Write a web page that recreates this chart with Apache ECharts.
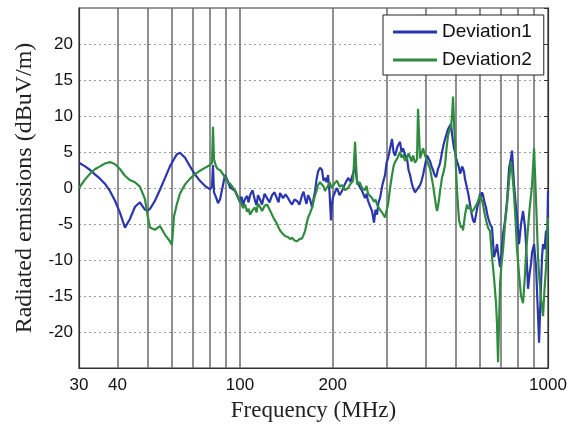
<!DOCTYPE html>
<html>
<head>
<meta charset="utf-8">
<script src="https://cdn.jsdelivr.net/npm/echarts@6/dist/echarts.min.js"></script>
<style>
  html, body { margin: 0; padding: 0; background: #fff; }
  #chart { width: 580px; height: 427px; }
</style>
</head>
<body>
<div id="chart"></div>
<script>
// frequency points (MHz), shared by both curves; one line here = one line in each curve below
var freqs = [
  30, 31.4, 32.6, 33.8, 35.1, 36.4, 37.8, 39.3, 40.8, 42.3,
  43.9, 45.6, 47.3, 49.1, 50.2, 51.0, 52.9, 55.0, 57.1, 59.2,
  60.1, 61.0, 62.4, 63.8, 66.3, 68.8, 71.4, 74.1, 76.9, 79.9,
  81.1, 81.7, 82.3, 83.6, 84.8, 86.1, 89.4, 91.4, 92.8, 96.3,
  100, 101.1, 102.3, 103.8, 105.4, 106.6, 107.8, 109.8, 111.9, 113.1,
  114.4, 116.1, 117.9, 120.1, 122.4, 124.7, 127.0, 129.4, 131.9, 133.4,
  134.9, 136.4, 137.9, 140.5, 143.2, 145.3, 147.5, 150.3, 153.1, 156.0,
  159.0, 160.8, 162.6, 164.4, 166.3, 168.8, 171.4, 173.3, 175.3, 177.2,
  179.2, 181.9, 184.6, 186.7, 188.8, 191.0, 193.1, 195.2, 197.4, 198.7,
  200, 203.2, 206.5, 210.4, 214.4, 219.3, 224.3, 228.5, 232.8, 236.3,
  239.9, 244.4, 249.0, 254.6, 257.5, 260.4, 264.3, 268.3, 272.3, 275.4,
  278.5, 281.6, 284.8, 290.2, 295.7, 299.0, 302.4, 307.0, 311.6, 315.1,
  318.6, 324.7, 330.8, 334.5, 338.3, 343.4, 348.5, 352.5, 356.5, 360.5,
  364.6, 370.1, 375.6, 378.4, 384.2, 388.5, 392.9, 398.8, 404.8, 409.4,
  414.0, 418.7, 423.4, 426.6, 429.8, 433.0, 436.3, 439.6, 443.0, 446.2,
  449.5, 452.9, 458.0, 463.2, 468.4, 473.7, 479.0, 484.4, 488.0, 491.7,
  495.4, 499.1, 502.8, 506.6, 510.4, 514.2, 518.1, 522.0, 525.9, 529.8,
  533.8, 537.8, 545.9, 552.1, 558.3, 564.6, 571.0, 577.4, 583.9, 590.5,
  597.1, 601.6, 606.1, 610.6, 615.2, 622.2, 629.2, 633.9, 638.7, 648.3,
  658.1, 668.0, 678.1, 683.2, 688.3, 698.7, 706.6, 714.5, 725.3, 736.2,
  747.3, 758.6, 764.3, 775.8, 784.6, 793.4, 805.4, 817.5, 829.8, 842.3,
  848.6, 861.4, 871.0, 881.0, 887.6, 901.0, 914.6, 928.3, 935.3, 949.4,
  956.5, 963.7, 974.5, 985.5, 992.7, 1000
]

var deviation1 = [
  3.5, 3.0, 2.5, 1.9, 1.3, 0.6, -0.4, -1.8, -3.5, -5.5,
  -4.3, -2.6, -2.0, -3.0, -3.1, -2.9, -1.8, -0.2, 1.4, 3.0,
  3.5, 4.0, 4.7, 4.9, 4.2, 3.0, 1.9, 1.0, 0.3, -0.2,
  0.2, 3.2, -0.6, -1.3, -2.1, -1.6, 1.8, 0.9, 0.1, -0.4,
  -2.0, -1.2, -2.4, -1.5, -1.1, -2.0, -1.0, -0.3, -1.8, -2.4,
  -1.0, -1.6, -2.3, -0.8, -1.4, -2.0, -1.0, -0.6, -1.5, -2.0,
  -0.7, -0.5, -1.4, -0.9, -1.4, -1.9, -2.3, -1.6, -1.8, -2.3,
  -1.0, -0.5, -1.5, -2.2, -1.0, -1.6, -2.7, -1.5, -0.4, 1.2,
  2.3, 2.8, 2.5, 1.0, 1.4, 0.8, 1.8, -0.5, -4.5, -2.5,
  -1.4, -0.6, 0.0, -1.0, -0.4, 0.6, 1.4, 0.9, 2.0, 3.0,
  1.0, 0.2, -0.4, -1.4, -0.8, -1.8, -2.5, -3.2, -4.8, -3.0,
  -3.7, -2.0, -1.4, 0.5, 1.8, 3.5, 4.1, 5.5, 6.8, 5.0,
  4.5, 5.8, 6.4, 5.0, 5.5, 4.6, 4.1, 2.5, 1.8, 0.8,
  0.0, -0.6, -0.4, 0.0, 0.4, 1.0, 1.8, 3.2, 4.5, 4.3,
  3.7, 3.0, 2.5, 2.0, 1.8, 1.5, 2.0, 2.7, 3.0, 3.5,
  4.2, 5.0, 6.0, 6.8, 7.5, 8.2, 8.4, 8.9, 7.5, 6.4,
  5.5, 5.0, 4.2, 3.7, 3.3, 2.8, 2.0, 2.3, 3.0, 2.7,
  2.2, 1.2, 0.0, -1.0, -2.3, -3.5, -4.5, -4.8, -3.7, -2.5,
  -1.8, -0.8, -1.2, -0.6, -1.0, -2.0, -2.7, -3.5, -4.1, -5.0,
  -5.5, -9.6, -8.5, -7.8, -9.0, -11.0, -9.0, -6.4, -4.5, -1.8,
  2.7, 4.2, 5.2, 0.4, -2.0, -4.1, -7.8, -5.0, -3.2, -5.5,
  -7.8, -14.0, -12.0, -10.5, -9.0, -7.8, -11.0, -17.8, -21.5, -13.3,
  -9.5, -7.8, -8.5, -5.9, -9.0, -0.4
]

var deviation2 = [
  0.0, 1.2, 2.0, 2.6, 3.0, 3.4, 3.6, 3.3, 2.6, 1.7,
  1.1, 0.8, 0.2, -1.5, -4.0, -5.5, -5.8, -5.3, -6.5, -7.4,
  -7.9, -4.0, -2.2, -0.8, 0.5, 1.3, 1.9, 2.4, 2.8, 3.2,
  3.5, 8.5, 4.0, 3.0, 2.6, 2.5, 1.5, 0.8, 0.6, -0.3,
  -1.8, -2.2, -2.8, -2.3, -3.3, -2.9, -3.7, -3.1, -2.7, -3.4,
  -2.2, -2.6, -3.2, -2.5, -2.3, -3.0, -3.7, -4.4, -5.0, -5.5,
  -5.9, -6.1, -6.4, -6.7, -6.8, -7.1, -6.9, -7.3, -7.4, -7.1,
  -7.0, -6.5, -6.0, -5.0, -4.1, -3.5, -2.7, -1.8, -1.0, -0.4,
  0.4, 0.8, 1.0, 0.2, -0.4, 0.0, 0.3, 0.8, 0.6, 0.0,
  0.2, 0.7, 1.0, 0.2, 0.4, -0.3, 0.0, 0.6, 1.0, 6.4,
  0.5, 0.8, 0.0, -0.3, 0.3, -0.8, -1.0, -1.4, -1.9, -1.6,
  -2.3, -2.7, -3.0, -3.5, -4.1, -3.2, -2.3, 0.0, 1.8, 3.0,
  3.6, 4.2, 5.0, 4.2, 4.6, 3.8, 4.1, 4.8, 4.3, 3.7,
  4.5, 3.5, 4.0, 11.0, 4.1, 4.8, 5.5, 4.5, 3.8, 3.2,
  2.7, 1.5, 0.4, -0.6, -1.5, -2.5, -3.2, -2.5, -1.5, -0.4,
  0.5, 1.5, 2.2, 3.2, 5.5, 7.3, 8.0, 8.6, 10.0, 12.7,
  9.0, 6.4, 2.5, -0.4, -2.5, -4.5, -5.0, -5.5, -5.2, -5.9,
  -4.8, -3.7, -2.3, -2.9, -2.6, -3.4, -3.2, -2.8, -2.4, -2.0,
  -1.8, -1.0, -1.4, -1.8, -2.3, -3.5, -4.5, -5.0, -5.5, -6.0,
  -9.6, -12.5, -16.0, -19.0, -24.2, -13.3, -10.5, -8.6, -5.0, -2.3,
  1.0, 3.7, 2.5, -1.0, -4.5, -8.6, -12.0, -15.0, -16.0, -11.9,
  -9.0, -5.5, -3.0, -1.0, 0.4, 5.5, -1.8, -9.6, -12.0, -15.5,
  -16.5, -17.8, -14.0, -11.0, -8.0, -4.1
]

// vertical grid lines of the log axis and the labelled frequencies
var gridFreqs = [40, 50, 60, 70, 80, 90, 100, 200, 300, 400, 500, 600, 700, 800, 900]
var freqLabels = [30, 40, 100, 200, 1000]

var pairs = function(ys) {
  return freqs.map(function(f, i) { return [f, ys[i]] })
}

var chart = echarts.init(document.getElementById('chart'))

chart.setOption({
  animation: false,
  backgroundColor: '#fff',
  grid: {
    left: 79,
    right: 32,
    top: 8,
    bottom: 55,
    show: true,
    borderColor: '#333',
    borderWidth: 1.2
  },
  legend: {
    orient: 'vertical',
    left: 383,
    top: 15,
    padding: [7, 12, 5, 10],
    itemGap: 8,
    itemWidth: 44,
    itemHeight: 3,
    icon: 'rect',
    backgroundColor: '#fff',
    borderColor: '#222',
    borderWidth: 1,
    borderRadius: 0,
    textStyle: {
      fontFamily: 'Liberation Sans',
      fontSize: 19,
      lineHeight: 20,
      color: '#111'
    },
    data: ['Deviation1', 'Deviation2']
  },
  xAxis: {
    type: 'log',
    logBase: 10,
    min: 30,
    max: 1000,
    name: 'Frequency (MHz)',
    nameLocation: 'middle',
    nameGap: 31,
    nameTextStyle: {
      fontFamily: 'Liberation Serif',
      fontSize: 23,
      color: '#222'
    },
    axisLine: { show: true, onZero: false, lineStyle: { color: '#333', width: 1.2 } },
    axisTick: { show: false },
    splitLine: { show: false },
    minorSplitLine: { show: false },
    axisLabel: {
      customValues: freqLabels,
      formatter: function(v) { return String(v) },
      margin: 9,
      fontFamily: 'Liberation Sans',
      fontSize: 17,
      color: '#111'
    }
  },
  yAxis: [
    {
      type: 'value',
      min: -25,
      max: 25,
      interval: 5,
      name: 'Radiated emissions (dBuV/m)',
      nameLocation: 'middle',
      nameGap: 42,
      nameTextStyle: {
        fontFamily: 'Liberation Serif',
        fontSize: 24,
        color: '#222'
      },
      axisLine: { show: true, lineStyle: { color: '#333', width: 1.2 } },
      axisTick: { show: false },
      splitLine: {
        show: true,
        lineStyle: { color: '#9a9a9a', type: [2, 3], width: 1 }
      },
      axisLabel: {
        showMinLabel: false,
        showMaxLabel: false,
        margin: 6,
        fontFamily: 'Liberation Sans',
        fontSize: 17,
        color: '#111'
      }
    },
    {
      type: 'value',
      position: 'right',
      min: -25,
      max: 25,
      interval: 5,
      axisLine: { show: true, lineStyle: { color: '#333', width: 1.2 } },
      axisTick: { show: true, inside: true, length: 4, lineStyle: { color: '#333' } },
      axisLabel: { show: false },
      splitLine: { show: false }
    }
  ],
  series: [
    {
      name: 'Deviation1',
      type: 'line',
      symbol: 'none',
      color: '#2b36ad',
      lineStyle: { width: 2.2, color: '#2b36ad' },
      data: pairs(deviation1),
      markLine: {
        silent: true,
        symbol: 'none',
        z: 1,
        label: { show: false },
        lineStyle: { color: '#6a6a6a', width: 1.5, type: 'solid' },
        data: gridFreqs.map(function(f) { return { xAxis: f } })
      }
    },
    {
      name: 'Deviation2',
      type: 'line',
      symbol: 'none',
      color: '#2f8c3f',
      lineStyle: { width: 2.2, color: '#2f8c3f' },
      data: pairs(deviation2)
    }
  ]
})
</script>
</body>
</html>
